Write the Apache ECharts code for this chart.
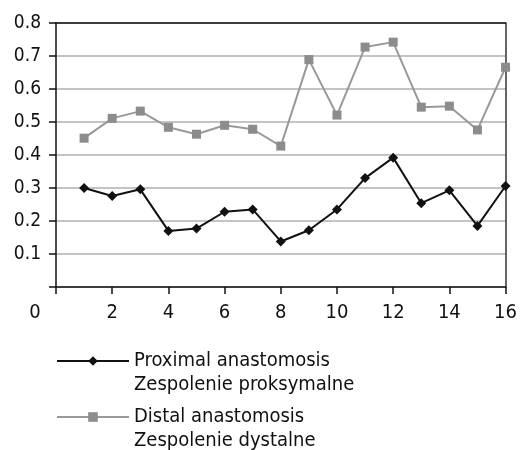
<!DOCTYPE html>
<html><head><meta charset="utf-8">
<script src="https://cdn.jsdelivr.net/npm/echarts@6/dist/echarts.min.js"></script>
<style>html,body{margin:0;padding:0;background:#fff}#c{width:520px;height:450px}</style>
</head><body><div id="c"></div>
<script>
const xValues = [1,2,3,4,5,6,7,8,9,10,11,12,13,14,15,16];
const proximal = [0.300,0.276,0.296,0.170,0.177,0.228,0.235,0.138,0.172,0.235,0.330,0.392,0.254,0.293,0.185,0.306];
const distal = [0.451,0.511,0.533,0.484,0.463,0.490,0.478,0.427,0.689,0.521,0.727,0.742,0.545,0.548,0.476,0.666];
const proxName = 'Proximal anastomosis\nZespolenie proksymalne';
const distName = 'Distal anastomosis\nZespolenie dystalne';
const FONT = '"Liberation Sans Narrow","DejaVu Sans Condensed",sans-serif';

const chart = echarts.init(document.getElementById('c'), null, {renderer:'canvas'});
const legendCommon = {
  orient:'vertical', left:56, padding:0, itemWidth:72, itemHeight:12, itemGap:0,
  formatter: n => '\u00a0\n' + n,
  textStyle:{fontFamily:FONT, fontSize:20, color:'#111', lineHeight:24}
};
chart.setOption({
  animation:false,
  textStyle:{fontFamily:FONT},
  grid:{left:56, right:10, top:23, bottom:163},
  legend:[
    Object.assign({}, legendCommon, {top:325, data:[proxName]}),
    Object.assign({}, legendCommon, {top:381, data:[distName]})
  ],
  xAxis:[{
    type:'value', min:0, max:16, interval:2,
    axisLine:{lineStyle:{color:'#111', width:1.5}},
    axisTick:{show:true, length:7, lineStyle:{color:'#111', width:1.5}},
    splitLine:{show:false},
    axisLabel:{fontFamily:FONT, fontSize:20, color:'#111', margin:16,
      formatter:v => v===0 ? '{z|0}' : String(v),
      rich:{z:{fontFamily:FONT, fontSize:20, color:'#111', padding:[0,42,0,0]}}}
  },{
    type:'value', min:0, max:16, position:'top',
    axisLine:{show:true, onZero:false, lineStyle:{color:'#111', width:1.5}},
    axisTick:{show:false}, axisLabel:{show:false}, splitLine:{show:false}
  }],
  yAxis:[{
    type:'value', min:0, max:0.8, interval:0.1,
    axisLine:{show:true, lineStyle:{color:'#111', width:1.5}},
    axisTick:{show:true, length:7, lineStyle:{color:'#111', width:1.5}},
    splitLine:{show:true, lineStyle:{color:'#b0b0b0', width:1.5}},
    axisLabel:{fontFamily:FONT, fontSize:19, color:'#111', margin:15,
      formatter:v => v===0 ? '' : v.toFixed(1)}
  },{
    type:'value', min:0, max:0.8, position:'right',
    axisLine:{show:true, onZero:false, lineStyle:{color:'#333', width:1.5}},
    axisTick:{show:false}, axisLabel:{show:false}, splitLine:{show:false}
  }],
  series:[{
    name:proxName, type:'line',
    data:xValues.map((x,i)=>[x, proximal[i]]),
    symbol:'diamond', symbolSize:10,
    lineStyle:{color:'#111', width:2},
    itemStyle:{color:'#111'}
  },{
    name:distName, type:'line',
    data:xValues.map((x,i)=>[x, distal[i]]),
    symbol:'rect', symbolSize:9,
    lineStyle:{color:'#999', width:2},
    itemStyle:{color:'#8c8c8c'}
  }]
});
</script></body></html>
